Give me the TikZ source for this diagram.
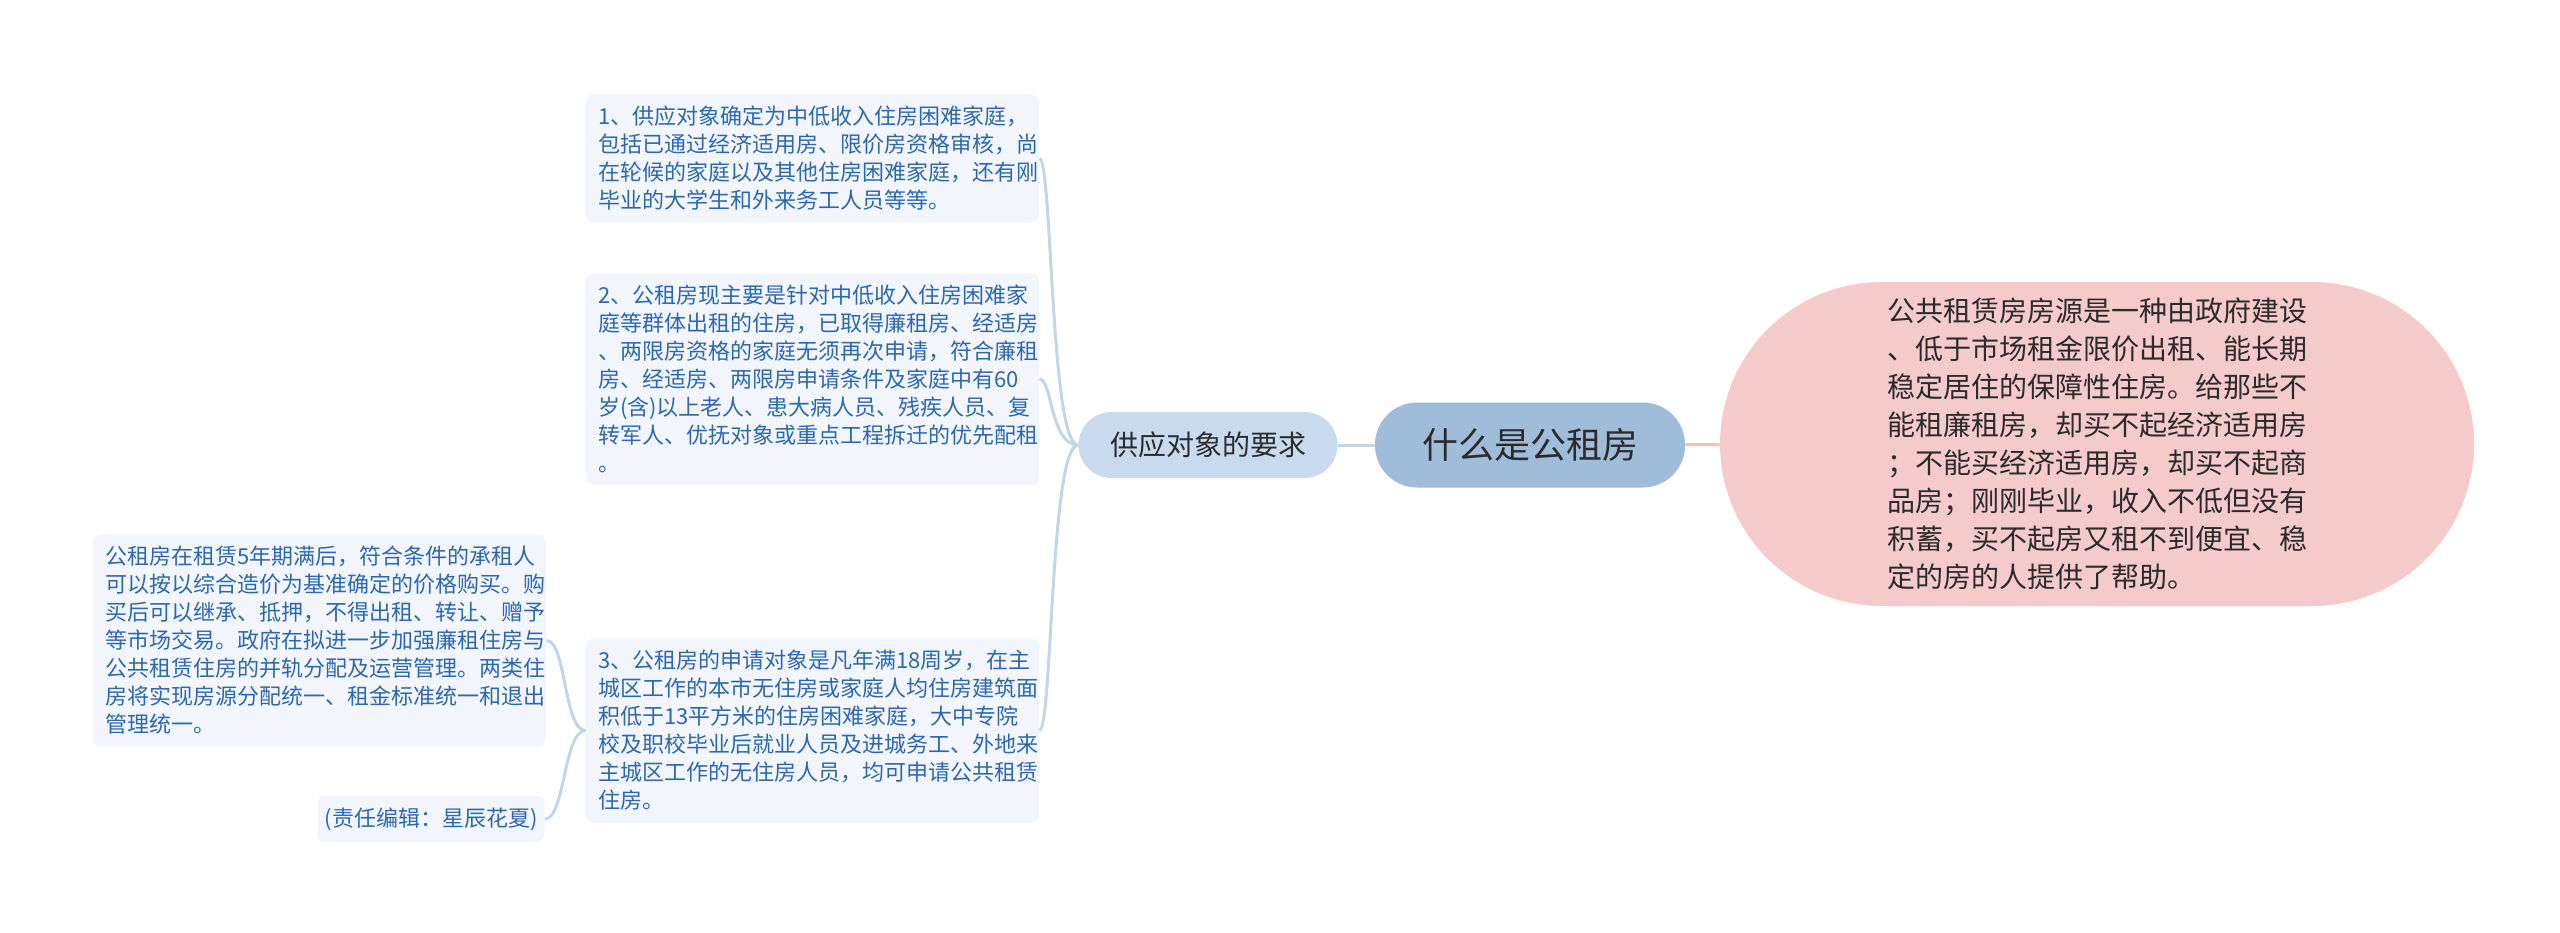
\documentclass[tikz,border=0pt]{standalone}
\usepackage{fontspec}
\setmainfont{Noto Sans CJK SC}
\usetikzlibrary{positioning}
\definecolor{leafbg}{HTML}{F2F6FC}
\definecolor{leaftext}{HTML}{2C68AE}
\definecolor{subbg}{HTML}{C8DBEE}
\definecolor{rootbg}{HTML}{9FBDDA}
\definecolor{pinkbg}{HTML}{F5CACB}
\definecolor{linkblue}{HTML}{C5D5E8}
\definecolor{linkpink}{HTML}{F2C0C1}
\definecolor{darktext}{HTML}{2B2B2B}
\tikzset{
  leaf/.style={fill=leafbg,text=leaftext,rounded corners=4pt,inner xsep=6pt,inner ysep=6pt,
    font=\fontsize{11}{14}\selectfont},
  leafpar/.style={leaf,text width=214.5pt,align=left},
  link/.style={draw=linkblue,line width=1.5pt},
}
\begin{document}
\begin{tikzpicture}[x=0.5pt,y=-0.5pt]
\useasboundingbox (0,0) rectangle (2560,932);
%root and main branches
\node[fill=rootbg,text=darktext,rounded corners=21pt,minimum width=155pt,minimum height=42.5pt,
  font=\fontsize{18}{22}\selectfont] (root) at (1530,445) {什么是公租房};
\node[fill=subbg,text=darktext,rounded corners=16.5pt,minimum width=129.5pt,minimum height=33pt,
  font=\fontsize{14}{17}\selectfont] (supply) at (1208,445) {供应对象的要求};
\node[fill=pinkbg,text=darktext,rounded corners=81pt,minimum width=377pt,minimum height=162pt,
  text width=210pt,align=left,font=\fontsize{14}{19}\selectfont] (define) at (2097,444)
  {公共租赁房房源是一种由政府建设\\、低于市场租金限价出租、能长期\\稳定居住的保障性住房。给那些不\\能租廉租房，却买不起经济适用房\\；不能买经济适用房，却买不起商\\品房；刚刚毕业，收入不低但没有\\积蓄，买不起房又租不到便宜、稳\\定的房的人提供了帮助。};
%leaves
\node[leafpar] (item1) at (812.5,158.5)
  {1、供应对象确定为中低收入住房困难家庭，\\包括已通过经济适用房、限价房资格审核，尚\\在轮候的家庭以及其他住房困难家庭，还有刚\\毕业的大学生和外来务工人员等等。};
\node[leafpar] (item2) at (812.5,379)
  {2、公租房现主要是针对中低收入住房困难家\\庭等群体出租的住房，已取得廉租房、经适房\\、两限房资格的家庭无须再次申请，符合廉租\\房、经适房、两限房申请条件及家庭中有60\\岁(含)以上老人、患大病人员、残疾人员、复\\转军人、优抚对象或重点工程拆迁的优先配租\\。};
\node[leafpar] (item3) at (812.5,730.5)
  {3、公租房的申请对象是凡年满18周岁，在主\\城区工作的本市无住房或家庭人均住房建筑面\\积低于13平方米的住房困难家庭，大中专院\\校及职校毕业后就业人员及进城务工、外地来\\主城区工作的无住房人员，均可申请公共租赁\\住房。};
\node[leafpar] (buy) at (319.5,640.5)
  {公租房在租赁5年期满后，符合条件的承租人\\可以按以综合造价为基准确定的价格购买。购\\买后可以继承、抵押，不得出租、转让、赠予\\等市场交易。政府在拟进一步加强廉租住房与\\公共租赁住房的并轨分配及运营管理。两类住\\房将实现房源分配统一、租金标准统一和退出\\管理统一。};
\node[leaf,anchor=east,inner xsep=3.5pt] (editor) at (545,819) {(责任编辑：星辰花夏)};
%links
\draw[link] (supply) -- (root);
\draw[draw=linkpink,line width=1.5pt] (root) -- (define);
\draw[link] (supply.west) .. controls +(-28,0) and +(13,0) .. (item1.east);
\draw[link] (supply.west) .. controls +(-28,0) and +(13,0) .. (item2.east);
\draw[link] (supply.west) .. controls +(-28,0) and +(13,0) .. (item3.east);
\draw[link] (item3.west) .. controls +(-22,0) and +(20,0) .. (buy.east);
\draw[link] (item3.west) .. controls +(-22,0) and +(20,0) .. (editor.east);
\end{tikzpicture}
\end{document}
